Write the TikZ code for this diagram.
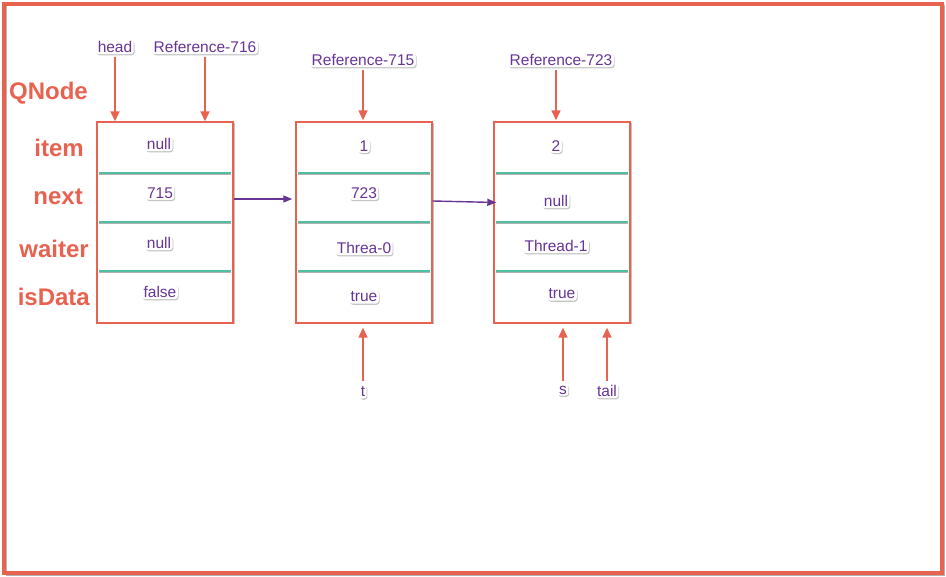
\documentclass[tikz,border=0pt]{standalone}
\usepackage{fontspec}
\setmainfont{Liberation Sans}
\usetikzlibrary{shadows,arrows.meta,calc}
\definecolor{qred}{RGB}{232,98,80}
\definecolor{qpurple}{RGB}{104,52,150}
\definecolor{qteal}{RGB}{80,190,160}
\tikzset{
  qbox/.style={draw=qred, line width=1.4pt, fill=white, minimum width=136pt, minimum height=201pt, inner sep=0pt,
    drop shadow={shadow xshift=1.5pt, shadow yshift=-1.5pt, fill=black!40, opacity=0.6}},
  val/.style={text=qpurple, font=\fontsize{15.5}{17}\selectfont, fill=white, rounded corners=3pt, inner sep=1.5pt,
    drop shadow={shadow xshift=0.8pt, shadow yshift=-1.2pt, fill=black!45, opacity=0.5}},
  fld/.style={text=qred, font=\fontsize{24}{26}\selectfont\bfseries, inner sep=1pt, anchor=east},
  redarr/.style={draw=qred, line width=1.6pt, -{Triangle[length=10pt,width=9pt]}},
  purarr/.style={draw=qpurple, line width=1.4pt, -{Triangle[length=9pt,width=7pt]}},
  sepline/.style={draw=qteal, line width=1.3pt},
  sepshadow/.style={draw=black!30, line width=1pt}
}
\begin{document}
\begin{tikzpicture}[x=1pt,y=-1pt]
\useasboundingbox (0,0) rectangle (946,577);
\draw[black!30, line width=1pt] (6,6) rectangle (944,575);
\draw[qred, line width=3.5pt] (4,4) rectangle (942,573);

% boxes
\node[qbox] (box1) at (165,222.5) {};
\node[qbox] (box2) at (364,222.5) {};
\node[qbox] (box3) at (562,222.5) {};
\foreach \bx in {97,296,494}{
  \foreach \sy in {173,222,271}{
    \draw[sepshadow] (\bx+2,\sy+1.7) -- (\bx+134,\sy+1.7);
    \draw[sepline] (\bx+2,\sy) -- (\bx+134,\sy);
  }
}

% field labels
\node[fld] (lQNode) at (89,93) {QNode};
\node[fld] (litem) at (85,148) {item};
\node[fld] (lnext) at (84,197) {next};
\node[fld] (lwaiter) at (90,249) {waiter};
\node[fld] (lisData) at (91,297) {isData};

% values
\node[val] (a1) at (159,144) {null};
\node[val] (a2) at (160,193) {715};
\node[val] (a3) at (159,243) {null};
\node[val] (a4) at (160,292) {false};
\node[val] (b1) at (364,146) {1};
\node[val] (b2) at (364,193) {723};
\node[val] (b3) at (364,248) {Threa-0};
\node[val] (b4) at (364,297) {true};
\node[val] (c1) at (556,146) {2};
\node[val] (c2) at (556,201) {null};
\node[val] (c3) at (556,246) {Thread-1};
\node[val] (c4) at (562,294) {true};

% pointer labels
\node[val] (head) at (115,47) {head};
\node[val] (r716) at (205,47) {Reference-716};
\node[val] (r715) at (363,60) {Reference-715};
\node[val] (r723) at (561,60) {Reference-723};
\node[val] (t) at (363,392) {t};
\node[val] (s) at (563,390) {s};
\node[val] (tail) at (607,391) {tail};

% red pointer arrows
\draw[redarr] ($(head.south)+(0,3)$) -- (head.south |- box1.north);
\draw[redarr] ($(r716.south)+(0,3)$) -- (r716.south |- box1.north);
\draw[redarr] ($(r715.south)+(0,3)$) -- ($(r715.south |- box2.north)+(0,-1)$);
\draw[redarr] ($(r723.south)+(-5,3)$) -- ($(r723.south |- box3.north)+(-5,-1)$);
\draw[redarr] ($(t.north)+(0,-4)$) -- ($(t.north |- box2.south)+(0,4)$);
\draw[redarr] ($(s.north)+(0,-3)$) -- ($(s.north |- box3.south)+(0,4)$);
\draw[redarr] ($(tail.north)+(0,-3)$) -- ($(tail.north |- box3.south)+(0,4)$);

% next links
\draw[purarr] ($(box1.east)+(0,-23.5)$) -- ($(box2.west)+(-3,-23.5)$);
\draw[purarr] ($(box2.east)+(0,-21.5)$) -- ($(box3.west)+(3,-20)$);
\end{tikzpicture}
\end{document}
